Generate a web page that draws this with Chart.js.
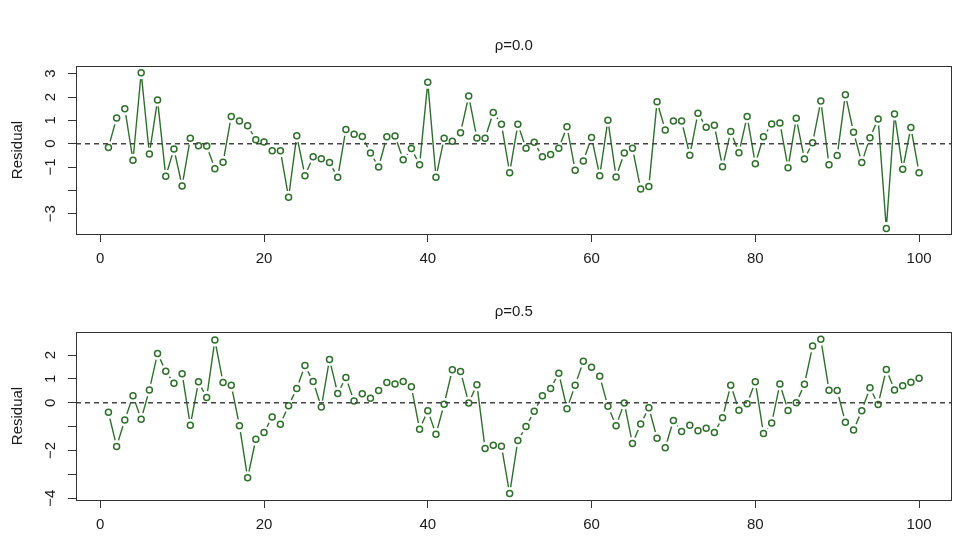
<!DOCTYPE html>
<html><head><meta charset="utf-8">
<script src="https://cdn.jsdelivr.net/npm/chart.js@4.4.0/dist/chart.umd.min.js"></script>
<style>
html,body{margin:0;padding:0;background:#fff;}
#wrap{position:relative;width:975px;height:556px;overflow:hidden;background:#fff;}
canvas{position:absolute;left:0;}
#c1{top:0;} #c2{top:266px;}
</style></head><body>
<div id="wrap"><canvas id="c1" width="975" height="278"></canvas><canvas id="c2" width="975" height="278"></canvas></div>
<script>
// ---------- data ----------
const timeIndex = [1,2,3,4,5,6,7,8,9,10,11,12,13,14,15,16,17,18,19,20,
  21,22,23,24,25,26,27,28,29,30,31,32,33,34,35,36,37,38,39,40,
  41,42,43,44,45,46,47,48,49,50,51,52,53,54,55,56,57,58,59,60,
  61,62,63,64,65,66,67,68,69,70,71,72,73,74,75,76,77,78,79,80,
  81,82,83,84,85,86,87,88,89,90,91,92,93,94,95,96,97,98,99,100];
const residRho00 = [-0.16,1.10,1.50,-0.71,3.04,-0.44,1.87,-1.40,-0.23,-1.81,
  0.23,-0.09,-0.10,-1.07,-0.80,1.17,0.97,0.77,0.17,0.07,
  -0.30,-0.30,-2.30,0.34,-1.37,-0.56,-0.64,-0.81,-1.44,0.61,
  0.40,0.31,-0.40,-1.00,0.30,0.33,-0.69,-0.21,-0.90,2.63,
  -1.44,0.23,0.11,0.47,2.04,0.24,0.23,1.34,0.83,-1.24,
  0.83,-0.20,0.06,-0.56,-0.46,-0.20,0.73,-1.14,-0.74,0.27,
  -1.37,1.01,-1.43,-0.40,-0.20,-1.94,-1.83,1.80,0.59,0.97,
  0.97,-0.49,1.31,0.71,0.79,-0.99,0.52,-0.39,1.17,-0.86,
  0.30,0.84,0.89,-1.03,1.09,-0.66,0.04,1.83,-0.90,-0.51,
  2.10,0.49,-0.81,0.26,1.06,-3.63,1.27,-1.09,0.69,-1.24];
const residRho05 = [-0.40,-1.83,-0.72,0.29,-0.69,0.54,2.07,1.32,0.82,1.22,
  -0.94,0.88,0.22,2.63,0.85,0.74,-0.96,-3.15,-1.53,-1.25,
  -0.60,-0.90,-0.12,0.60,1.56,0.89,-0.18,1.82,0.39,1.06,
  0.07,0.38,0.19,0.51,0.85,0.79,0.89,0.67,-1.11,-0.33,
  -1.32,-0.06,1.39,1.31,-0.01,0.76,-1.92,-1.78,-1.82,-3.81,
  -1.58,-1.00,-0.36,0.29,0.60,1.24,-0.25,0.74,1.74,1.49,
  1.11,-0.15,-0.96,-0.01,-1.71,-0.89,-0.21,-1.49,-1.89,-0.74,
  -1.21,-0.94,-1.17,-1.07,-1.25,-0.63,0.74,-0.31,-0.04,0.88,
  -1.29,-0.85,0.79,-0.32,0.00,0.78,2.38,2.67,0.53,0.51,
  -0.82,-1.14,-0.33,0.63,-0.07,1.40,0.54,0.71,0.86,1.03];
const panelTitles = ['ρ=0.0', 'ρ=0.5'];
const yAxisTitle = 'Residual';
const xTickValues = [0,20,40,60,80,100];
const xTickLabels = ['0','20','40','60','80','100'];
const yTicksTop = [-3,-2,-1,0,1,2,3];
const yTickLabelsTop = ['\u22123','','\u22121','0','1','2','3'];
const yTicksBottom = [-4,-3,-2,-1,0,1,2];
const yTickLabelsBottom = ['\u22124','','\u22122','','0','1','2'];
const referenceLevel = 0;

// ---------- styling ----------
const GREEN = '#2f6f2c';
const FONT = "'Liberation Sans', Arial, Helvetica, sans-serif";
const TXT = '#1a1a1a';

const boxPlugin = {
  id: 'rbox',
  afterDraw(chart) {
    const a = chart.chartArea, ctx = chart.ctx;
    ctx.save();
    ctx.strokeStyle = '#333';
    ctx.lineWidth = 1;
    ctx.strokeRect(Math.round(a.left) + 0.5, Math.round(a.top) + 0.5,
      Math.round(a.right - a.left) - 1, Math.round(a.bottom - a.top));
    ctx.restore();
  }
};
const refLinePlugin = {
  id: 'refline',
  afterDatasetsDraw(chart) {
    const a = chart.chartArea, ctx = chart.ctx;
    const y = chart.scales.y.getPixelForValue(referenceLevel);
    ctx.save();
    ctx.strokeStyle = '#444';
    ctx.lineWidth = 1.5;
    ctx.setLineDash([5, 4]);
    ctx.beginPath();
    ctx.moveTo(a.left, y);
    ctx.lineTo(a.right, y);
    ctx.stroke();
    ctx.restore();
  }
};

function makePanel(id, values, title, yTicks, yLabels, yMin, yMax) {
  const pts = timeIndex.map((t, i) => ({x: t, y: values[i]}));
  return new Chart(document.getElementById(id), {
    type: 'line',
    data: {
      datasets: [
        { data: pts, borderColor: GREEN, borderWidth: 1.4, pointRadius: 0, fill: false, tension: 0, order: 3 },
        { data: pts, showLine: false, pointRadius: 6.5, pointBackgroundColor: '#fff', pointBorderWidth: 0, pointBorderColor: 'rgba(0,0,0,0)', order: 2 },
        { data: pts, showLine: false, pointRadius: 3, pointBackgroundColor: '#fff', pointBorderColor: GREEN, pointBorderWidth: 1.5, order: 1 }
      ]
    },
    options: {
      responsive: false,
      animation: false,
      devicePixelRatio: 1,
      events: [],
      layout: { padding: { left: 0, right: 23.5, top: 0, bottom: 0 } },
      plugins: {
        legend: { display: false },
        tooltip: { enabled: false },
        title: {
          display: true, text: title, fullSize: false, color: TXT,
          font: { family: FONT, size: 15, weight: 'normal', lineHeight: 1.2 },
          padding: { top: 37, bottom: 11 }
        }
      },
      scales: {
        x: {
          type: 'linear', min: -2.96, max: 103.96,
          afterBuildTicks: s => { s.ticks = xTickValues.map(v => ({value: v})); },
          afterFit: s => { s.height = 44; },
          border: { display: false },
          grid: { drawOnChartArea: false, drawTicks: true, tickLength: 8, color: '#333', lineWidth: 1 },
          ticks: {
            autoSkip: false, maxRotation: 0, padding: 8, color: TXT,
            font: { family: FONT, size: 15 },
            callback: v => { const k = xTickValues.indexOf(v); return k >= 0 ? xTickLabels[k] : ''; }
          }
        },
        y: {
          type: 'linear', min: yMin, max: yMax,
          afterBuildTicks: s => { s.ticks = yTicks.map(v => ({value: v})); },
          afterFit: s => { s.width = 76; },
          border: { display: false },
          grid: { drawOnChartArea: false, drawTicks: true, tickLength: 8, color: '#333', lineWidth: 1 },
          title: {
            display: true, text: yAxisTitle, color: TXT,
            font: { family: FONT, size: 15, lineHeight: 1.2 },
            padding: { top: 9, bottom: 0 }
          },
          ticks: {
            autoSkip: false, minRotation: 90, maxRotation: 90, crossAlign: 'center',
            padding: 8.5, color: TXT,
            font: { family: FONT, size: 15 },
            callback: v => { const k = yTicks.indexOf(v); return k >= 0 ? yLabels[k] : ''; }
          }
        }
      }
    },
    plugins: [refLinePlugin, boxPlugin]
  });
}

makePanel('c1', residRho00, panelTitles[0], yTicksTop, yTickLabelsTop, -3.87, 3.33);
makePanel('c2', residRho05, panelTitles[1], yTicksBottom, yTickLabelsBottom, -4.08, 2.97);
</script>
</body></html>
